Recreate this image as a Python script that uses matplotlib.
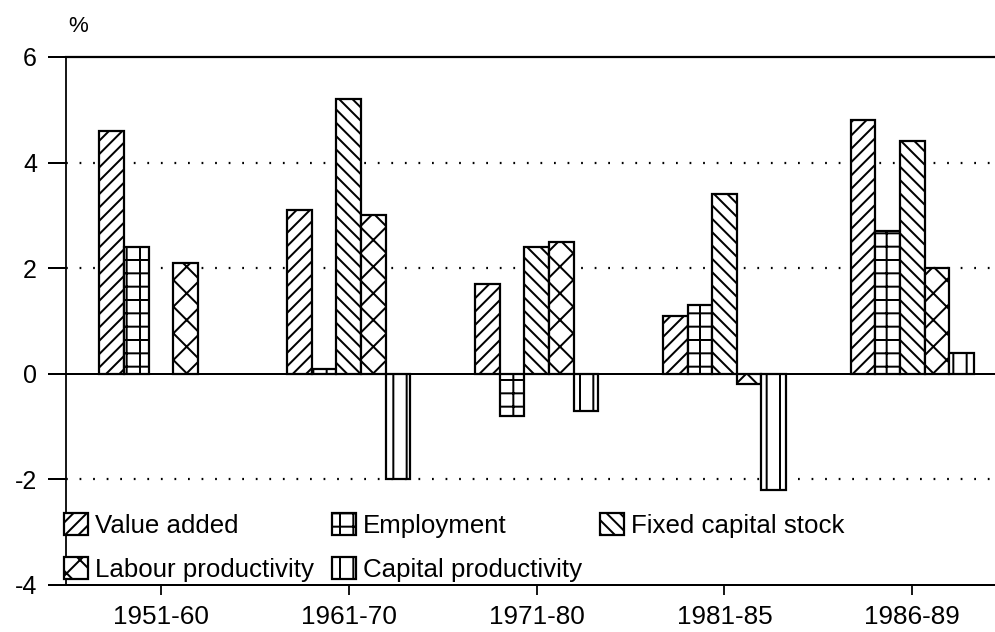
import numpy as np
import matplotlib
matplotlib.use("Agg")
import matplotlib.pyplot as plt

# ---------------- data ----------------
periods = ["1951-60", "1961-70", "1971-80", "1981-85", "1986-89"]
value_added = [4.6, 3.1, 1.7, 1.1, 4.8]
employment = [2.4, 0.1, -0.8, 1.3, 2.7]
fixed_capital_stock = [np.nan, 5.2, 2.4, 3.4, 4.4]
labour_productivity = [2.1, 3.0, 2.5, -0.2, 2.0]
capital_productivity = [np.nan, -2.0, -0.7, -2.2, 0.4]
series_names = ["Value added", "Employment", "Fixed capital stock",
                "Labour productivity", "Capital productivity"]
y_ticks = [-4, -2, 0, 2, 4, 6]
grid_levels = [-2, 2, 4]

plt.rcParams["font.family"] = ["Liberation Sans", "DejaVu Sans"]
plt.rcParams["axes.unicode_minus"] = False
plt.rcParams["hatch.linewidth"] = 1.8

DPI = 80
fig = plt.figure(figsize=(995 / DPI, 632 / DPI), dpi=DPI)
ax = fig.add_axes([66 / 995, 47 / 632, 929 / 995, 528 / 632])

series = [value_added, employment, fixed_capital_stock,
          labour_productivity, capital_productivity]
hatches = ["//", "+", "\\\\", "x", "|"]
x = np.arange(len(periods))
bw = 0.131
containers = []
for k, (vals, h, name) in enumerate(zip(series, hatches, series_names)):
    c = ax.bar(x + (k - 2) * bw, vals, width=bw, facecolor="white",
               edgecolor="black", linewidth=2.0, hatch=h, label=name, zorder=3)
    containers.append(c)

for g in grid_levels:
    ax.axhline(g, color="black", linewidth=2.0, linestyle=(0, (0.8, 5.3)), zorder=1)
ax.axhline(0, color="black", linewidth=1.8, zorder=4)

ax.set_ylim(-4, 6)
ax.set_xlim(-0.505, 4.44)
ax.set_yticks(y_ticks)
ax.set_yticklabels([str(v) for v in y_ticks])
ax.set_xticks(x)
ax.set_xticklabels(periods)

ax.spines["right"].set_visible(False)
ax.spines["top"].set_linewidth(2.0)
ax.spines["left"].set_linewidth(1.6)
ax.spines["bottom"].set_linewidth(1.8)
ax.tick_params(axis="y", length=16, width=1.8, pad=10, labelsize=22.5, direction="out")
ax.tick_params(axis="x", length=9, width=1.6, pad=9, labelsize=23.5, direction="out")

fig.text(78 / 995, 1 - 27 / 632, "%", ha="center", va="center", fontsize=20)

order = [0, 3, 1, 4, 2]
leg = ax.legend([containers[i] for i in order], [series_names[i] for i in order],
                ncol=3, loc="lower left",
                bbox_to_anchor=(64 / 995, (632 - 582) / 632),
                bbox_transform=fig.transFigure, frameon=False,
                borderpad=0, borderaxespad=0, handlelength=0.92, handleheight=0.92,
                handletextpad=0.27, columnspacing=0.7, labelspacing=0.74,
                fontsize=23.3)
leg.set_zorder(5)

fig.savefig("out.png", dpi=DPI)
